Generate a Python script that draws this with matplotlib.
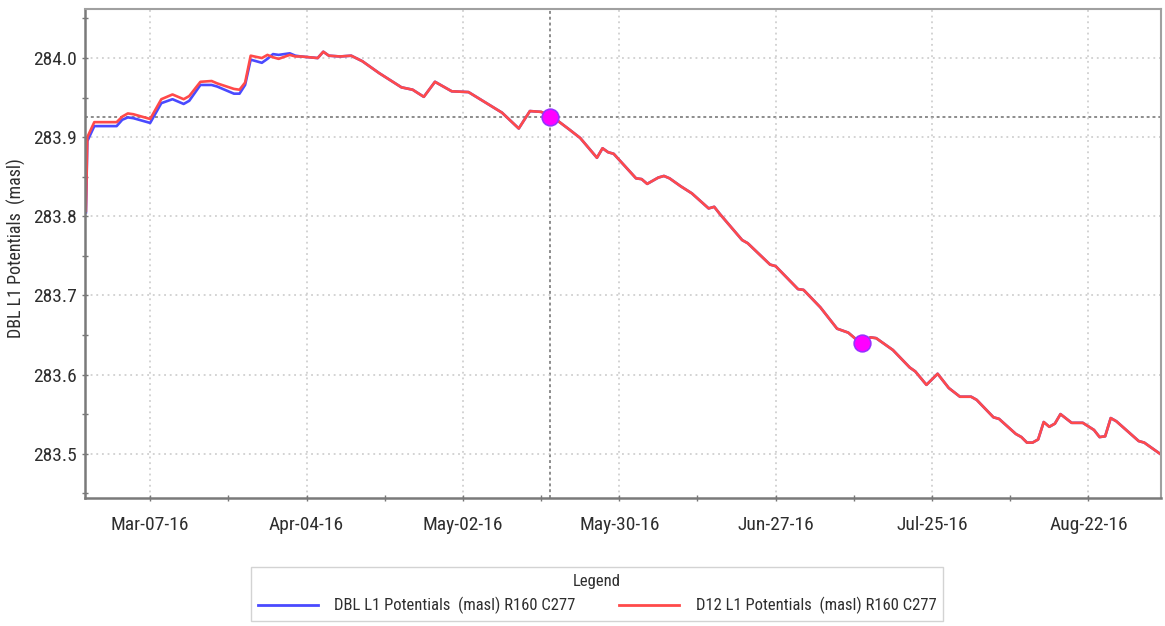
import numpy as np
import pandas as pd
import matplotlib
matplotlib.use("Agg")
import matplotlib.pyplot as plt
import matplotlib.dates as mdates
from matplotlib.lines import Line2D

plt.rcParams['font.family'] = ['Roboto Condensed', 'Liberation Sans', 'DejaVu Sans']

# early readings, where the two runs still differ a little
head_dates = ["2016-02-24 12:00", "2016-02-24 18:00", "2016-02-26", "2016-03-01",
              "2016-03-02", "2016-03-03", "2016-03-04", "2016-03-07", "2016-03-09",
              "2016-03-11", "2016-03-13", "2016-03-14", "2016-03-16", "2016-03-18",
              "2016-03-19", "2016-03-22", "2016-03-23", "2016-03-24", "2016-03-25",
              "2016-03-27", "2016-03-28", "2016-03-29", "2016-03-30", "2016-04-01",
              "2016-04-02", "2016-04-03"]
dbl_head = [283.805, 283.895, 283.914, 283.914, 283.922, 283.925, 283.924, 283.918,
            283.943, 283.948, 283.942, 283.946, 283.966, 283.966, 283.964, 283.955,
            283.955, 283.966, 283.998, 283.994, 283.999, 284.005, 284.004, 284.006,
            284.003, 284.002]
d12_head = [283.807, 283.900, 283.919, 283.919, 283.926, 283.930, 283.929, 283.923,
            283.948, 283.954, 283.948, 283.952, 283.970, 283.971, 283.968, 283.961,
            283.960, 283.969, 284.003, 284.000, 284.004, 284.001, 283.999, 284.004,
            284.002, 284.002]

# later readings, both runs practically the same
tail_dates = ["2016-04-06", "2016-04-07", "2016-04-08", "2016-04-10", "2016-04-12",
              "2016-04-14", "2016-04-17", "2016-04-21", "2016-04-23", "2016-04-25",
              "2016-04-27", "2016-04-30", "2016-05-03", "2016-05-06", "2016-05-09",
              "2016-05-12", "2016-05-14", "2016-05-16", "2016-05-18", "2016-05-21",
              "2016-05-23", "2016-05-26", "2016-05-27", "2016-05-28", "2016-05-29",
              "2016-06-02", "2016-06-03", "2016-06-04", "2016-06-06", "2016-06-07",
              "2016-06-08", "2016-06-10", "2016-06-12", "2016-06-15", "2016-06-16",
              "2016-06-17", "2016-06-21", "2016-06-22", "2016-06-26", "2016-06-27",
              "2016-07-01", "2016-07-02", "2016-07-05", "2016-07-08", "2016-07-10",
              "2016-07-12", "2016-07-14", "2016-07-15", "2016-07-18", "2016-07-21",
              "2016-07-22", "2016-07-24", "2016-07-26", "2016-07-28", "2016-07-30",
              "2016-08-01", "2016-08-02", "2016-08-05", "2016-08-06", "2016-08-09",
              "2016-08-10", "2016-08-11", "2016-08-12", "2016-08-13", "2016-08-14",
              "2016-08-15", "2016-08-16", "2016-08-17", "2016-08-19", "2016-08-21",
              "2016-08-23", "2016-08-24", "2016-08-25", "2016-08-26", "2016-08-27",
              "2016-08-31", "2016-09-01", "2016-09-04"]
tail = [284.000, 284.008, 284.003, 284.002, 284.003, 283.996, 283.981, 283.963,
        283.960, 283.951, 283.970, 283.958, 283.957, 283.944, 283.931, 283.911,
        283.933, 283.932, 283.926, 283.910, 283.899, 283.874, 283.886, 283.881,
        283.879, 283.848, 283.847, 283.841, 283.849, 283.851, 283.848, 283.838,
        283.829, 283.810, 283.812, 283.803, 283.770, 283.766, 283.739, 283.737,
        283.708, 283.707, 283.685, 283.658, 283.653, 283.641, 283.647, 283.646,
        283.631, 283.609, 283.604, 283.587, 283.601, 283.583, 283.572, 283.572,
        283.568, 283.546, 283.544, 283.525, 283.521, 283.514, 283.514, 283.518,
        283.540, 283.534, 283.538, 283.550, 283.539, 283.539, 283.530, 283.521,
        283.522, 283.545, 283.541, 283.516, 283.514, 283.499]

dates = pd.to_datetime(head_dates + tail_dates, format="ISO8601")
dbl = dbl_head + tail
d12 = d12_head + tail

# picked points
pick_dates = pd.to_datetime(["2016-05-17 15:00", "2016-07-12 12:00"])
pick_vals = [283.926, 283.640]

fig = plt.figure(figsize=(11.65, 6.26), dpi=100)
ax = fig.add_axes([85 / 1165, 1 - 498 / 626, 1076 / 1165, 489 / 626])

ax.plot(dates, dbl, color='#4a4aff', lw=1.9, solid_joinstyle='round')
ax.plot(dates, d12, color='#ff4a4a', lw=1.9, solid_joinstyle='round')

# crosshair through the first picked point
ax.axvline(pick_dates[0], color='#8c8c8c', lw=1.4, ls=(0, (1.5, 1.5)), zorder=1)
ax.axhline(pick_vals[0], color='#8c8c8c', lw=1.4, ls=(0, (1.5, 1.5)), zorder=1)
ax.plot(pick_dates, pick_vals, 'o', ms=12, mfc='#ff00ff', mec='#9a30ff', mew=1.2, zorder=5)

ax.set_xticks(pd.date_range("2016-03-07", periods=7, freq="28D"))
ax.set_xticks(pd.date_range("2016-02-22", periods=14, freq="14D"), minor=True)
ax.xaxis.set_major_formatter(mdates.DateFormatter("%b-%d-%y"))
ax.set_yticks(np.arange(283.5, 284.01, 0.1))
ax.set_yticks(np.arange(283.45, 284.06, 0.05), minor=True)
ax.yaxis.set_major_formatter(plt.FormatStrFormatter("%.1f"))

ax.set_xlim(pd.Timestamp("2016-02-24 08:00"), pd.Timestamp("2016-09-04"))
ax.set_ylim(283.444, 284.062)

ax.grid(True, which='major', color='#c8c8c8', lw=1.1, ls=(0, (1.2, 2.5)))
ax.tick_params(which='both', direction='inout', length=4, width=1, color='#777777',
               labelsize=14, labelcolor='#2e2e2e')
ax.tick_params(axis='x', pad=11)
ax.tick_params(axis='y', pad=4)

for side in ['left', 'bottom']:
    ax.spines[side].set_color('#7a7a7a')
    ax.spines[side].set_linewidth(1.8)
for side in ['top', 'right']:
    ax.spines[side].set_color('#a0a0a0')
    ax.spines[side].set_linewidth(1.5)

ax.set_ylabel("DBL L1 Potentials  (masl)", fontsize=13, color='#2e2e2e')
ax.yaxis.set_label_coords(-0.055, 0.51)

handles = [Line2D([], [], color='#4a4aff', lw=2), Line2D([], [], color='#ff4a4a', lw=2)]
labels = ["DBL L1 Potentials  (masl) R160 C277", "D12 L1 Potentials  (masl) R160 C277"]
leg = fig.legend(handles, labels, loc='upper center', bbox_to_anchor=(597 / 1165, 1 - 567 / 626),
                 ncol=2, title="Legend", fontsize=12, title_fontsize=12, frameon=True,
                 fancybox=False, edgecolor='#c8c8c8', handlelength=3.6, columnspacing=2.6,
                 handletextpad=1.0, borderpad=0.4, borderaxespad=0, labelcolor='#2e2e2e')
leg.get_title().set_color('#2e2e2e')

fig.savefig("out.png", dpi=100)
